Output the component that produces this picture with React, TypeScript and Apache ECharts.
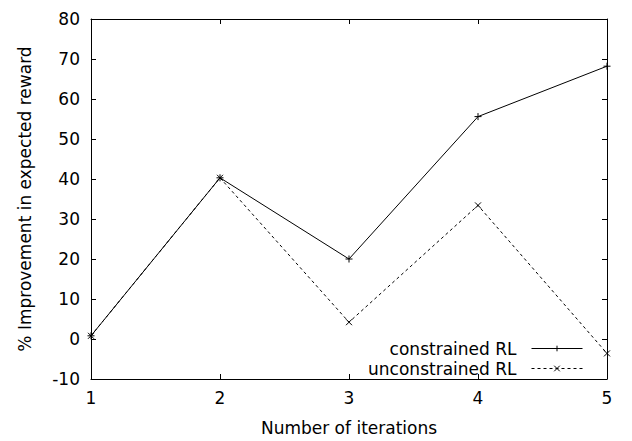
import React, { useEffect, useRef } from "react";
import * as echarts from "echarts";

const iterations = [1, 2, 3, 4, 5];
const constrainedRL = [0.8, 40.3, 20.0, 55.6, 68.2];
const unconstrainedRL = [0.8, 40.3, 4.2, 33.4, -3.6];
const seriesNames = ["constrained RL", "unconstrained RL"];

const plusPath = "path://M5,0L5,10M0,5L10,5";
const crossPath = "path://M0,0L10,10M10,0L0,10";

export default function App() {
  const ref = useRef<HTMLDivElement>(null);
  useEffect(() => {
    if (!ref.current) return;
    const chart = echarts.init(ref.current, null, { renderer: "svg" });
    const font = "DejaVu Sans, Verdana, sans-serif";
    const axisCommon = {
      axisLine: { show: true, onZero: false, lineStyle: { color: "#000", width: 1 } },
      axisTick: { show: true, inside: true, length: 5, lineStyle: { color: "#000" } },
      splitLine: { show: false },
    };
    chart.setOption({
      animation: false,
      backgroundColor: "#fff",
      textStyle: { fontFamily: font, color: "#000" },
      grid: { left: 91, right: 25, top: 19, bottom: 59 },
      legend: {
        orient: "vertical",
        right: 49,
        top: 340,
        padding: 0,
        align: "right",
        itemWidth: 51,
        itemHeight: 7,
        itemGap: 3,
        lineStyle: { width: 1 },
        itemStyle: { borderWidth: 1 },
        textStyle: {
          fontFamily: font,
          fontSize: 17,
          lineHeight: 17,
          color: "#000",
          padding: [0, 10, 0, 0],
        },
        data: seriesNames,
      },
      xAxis: [
        {
          type: "value",
          min: 1,
          max: 5,
          interval: 1,
          position: "bottom",
          name: "Number of iterations",
          nameLocation: "middle",
          nameGap: 40,
          nameTextStyle: { fontFamily: font, fontSize: 17, color: "#000" },
          axisLabel: { fontFamily: font, fontSize: 17, color: "#000", margin: 10 },
          ...axisCommon,
        },
        {
          type: "value",
          min: 1,
          max: 5,
          interval: 1,
          position: "top",
          axisLabel: { show: false },
          ...axisCommon,
        },
      ],
      yAxis: [
        {
          type: "value",
          min: -10,
          max: 80,
          interval: 10,
          position: "left",
          name: "% Improvement in expected reward",
          nameLocation: "middle",
          nameGap: 58,
          nameTextStyle: { fontFamily: font, fontSize: 17, color: "#000" },
          axisLabel: { fontFamily: font, fontSize: 17, color: "#000", margin: 11 },
          ...axisCommon,
        },
        {
          type: "value",
          min: -10,
          max: 80,
          interval: 10,
          position: "right",
          axisLabel: { show: false },
          ...axisCommon,
        },
      ],
      series: [
        {
          name: seriesNames[0],
          type: "line",
          data: iterations.map((x, i) => [x, constrainedRL[i]]),
          symbol: plusPath,
          symbolSize: 7,
          lineStyle: { color: "#000", width: 1, type: "solid" },
          itemStyle: { color: "#000", borderColor: "#000", borderWidth: 1 },
          z: 3,
        },
        {
          name: seriesNames[1],
          type: "line",
          data: iterations.map((x, i) => [x, unconstrainedRL[i]]),
          symbol: crossPath,
          symbolSize: 6,
          lineStyle: { color: "#000", width: 1, type: [3, 3] },
          itemStyle: { color: "#000", borderColor: "#000", borderWidth: 1 },
          z: 2,
        },
      ],
    });
    return () => chart.dispose();
  }, []);
  return <div ref={ref} style={{ width: 632, height: 441, position: "absolute", left: 0, top: 0 }} />;
}
